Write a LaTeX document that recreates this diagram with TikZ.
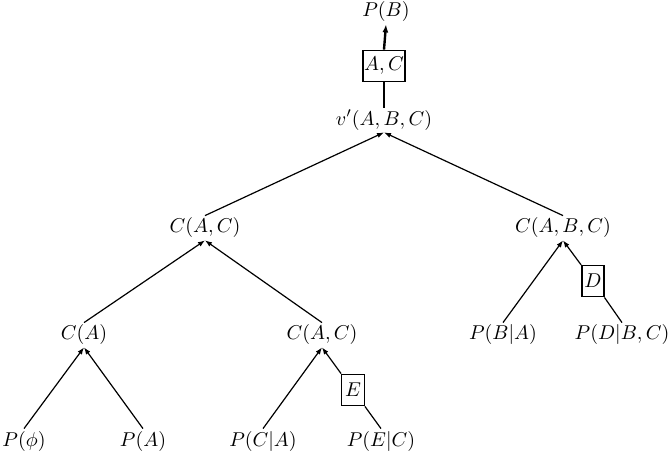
\documentclass[tikz,border=0pt]{standalone}
\usetikzlibrary{arrows.meta}
\begin{document}
\begin{tikzpicture}[x=0.5pt,y=-0.5pt,
  lbl/.style={inner sep=1pt},
  fbox/.style={draw,line width=0.9pt,inner sep=0.5pt,minimum height=15.5pt},
  edge/.style={line width=0.6pt},
  arr/.style={edge,-{Latex[length=3.5pt,width=2.6pt]}},
  thick edge/.style={line width=1.2pt},
  thick arr/.style={thick edge,-{Latex[length=4pt,width=3pt]}}]
\useasboundingbox (0,0) rectangle (669,459);
% nodes
\node[lbl] (PB) at (386,12) {$P(B)$};
\node[fbox,minimum width=21pt] (AC) at (384,66) {$A,C$};
\node[lbl] (vp) at (384,120) {$v'(A,B,C)$};
\node[lbl] (CAC2) at (205,228) {$C(A,C)$};
\node[lbl] (CABC) at (563,228) {$C(A,B,C)$};
\node[lbl] (CA) at (84,335) {$C(A)$};
\node[lbl] (CAC3) at (322,335) {$C(A,C)$};
\node[lbl] (PBA) at (503,335) {$P(B|A)$};
\node[lbl] (PDBC) at (622,335) {$P(D|B,C)$};
\node[fbox,minimum width=11pt] (D) at (593,281) {$D$};
\node[lbl] (Pphi) at (24,441) {$P(\phi)$};
\node[lbl] (PA) at (143,441) {$P(A)$};
\node[lbl] (PCA) at (263,441) {$P(C|A)$};
\node[lbl] (PEC) at (381,441) {$P(E|C)$};
\node[fbox,minimum width=11.5pt] (E) at (353,390) {$E$};
% edges
\draw[thick edge] (vp.north) -- (AC.south);
\draw[thick arr] (AC.north) -- (PB.south);
\draw[arr] (CAC2.north) -- (vp.south);
\draw[arr] (CABC.north) -- (vp.south);
\draw[arr] (CA.north) -- (CAC2.south);
\draw[arr] (CAC3.north) -- (CAC2.south);
\draw[arr] (PBA.north) -- (CABC.south);
\draw[edge] (PDBC.north) -- (D);
\draw[arr] (D) -- (CABC.south);
\draw[arr] (Pphi.north) -- (CA.south);
\draw[arr] (PA.north) -- (CA.south);
\draw[arr] (PCA.north) -- (CAC3.south);
\draw[edge] (PEC.north) -- (E);
\draw[arr] (E) -- (CAC3.south);
\end{tikzpicture}
\end{document}
